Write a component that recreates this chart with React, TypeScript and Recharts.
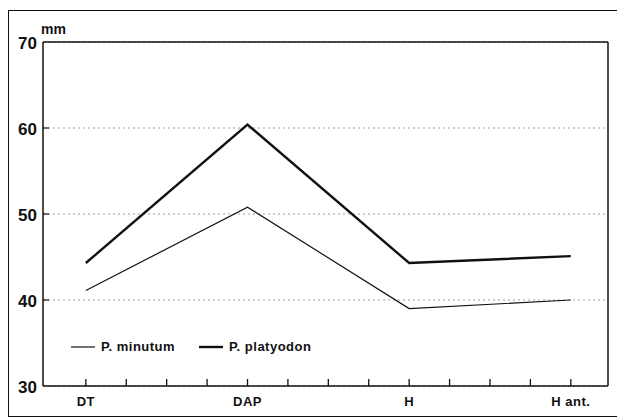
import React from 'react';
import { LineChart, Line, XAxis, YAxis, CartesianGrid, ReferenceLine, Legend } from 'recharts';

const categories = ['DT', 'DAP', 'H', 'H ant.'];
const minutum = [41.1, 50.8, 39.0, 40.0];
const platyodon = [44.3, 60.4, 44.3, 45.1];
const yTicks = [30, 40, 50, 60, 70];
const xTicks = [0, 1, 2, 3, 4, 5, 6, 7, 8, 9, 10, 11, 12];
const categoryStep = 4;

const data = categories.map((c, i) => ({
  x: i * categoryStep,
  name: c,
  minutum: minutum[i],
  platyodon: platyodon[i],
}));

const FONT = '"Liberation Sans", Arial, Helvetica, sans-serif';
const INK = '#111';

const XTick = (props: any) => {
  const { x, y, payload } = props;
  const v = payload.value as number;
  const idx = v / categoryStep;
  const isMajor = Number.isInteger(idx) && idx >= 0 && idx < categories.length;
  return (
    <g>
      <line x1={x} y1={y} x2={x} y2={y - 7} stroke={INK} strokeWidth={1.3} />
      {isMajor ? (
        <text
          x={x}
          y={y + 20}
          textAnchor="middle"
          fontFamily={FONT}
          fontWeight="bold"
          fontSize={13}
          letterSpacing={0.5}
          fill={INK}
        >
          {categories[idx]}
        </text>
      ) : null}
    </g>
  );
};

const YTick = (props: any) => {
  const { x, y, payload } = props;
  const v = payload.value as number;
  return (
    <g>
      {v !== 30 && v !== 70 ? (
        <line x1={x} y1={y} x2={x + 6} y2={y} stroke={INK} strokeWidth={1.2} />
      ) : null}
      <text
        x={x - 6}
        y={y + 7}
        textAnchor="end"
        fontFamily={FONT}
        fontWeight="bold"
        fontSize={17}
        fill={INK}
      >
        {v}
      </text>
    </g>
  );
};

const seriesWidth: Record<string, number> = { minutum: 1.2, platyodon: 2.4 };

const LegendContent = (props: any) => {
  const { payload } = props;
  return (
    <div style={{ display: 'flex', alignItems: 'center', fontFamily: FONT }}>
      {(payload || []).map((entry: any, i: number) => (
        <div
          key={entry.dataKey}
          style={{ display: 'flex', alignItems: 'center', marginLeft: i === 0 ? 0 : 24 }}
        >
          <svg width={24} height={6} style={{ display: 'block' }}>
            <line x1={0} y1={3} x2={24} y2={3} stroke={INK} strokeWidth={seriesWidth[entry.dataKey]} />
          </svg>
          <span
            style={{
              marginLeft: 6,
              fontWeight: 'bold',
              fontSize: 13,
              letterSpacing: 0.5,
              color: INK,
              lineHeight: '16px',
            }}
          >
            {entry.value}
          </span>
        </div>
      ))}
    </div>
  );
};

export default function App() {
  return (
    <div
      style={{
        position: 'absolute',
        left: 0,
        top: 0,
        width: 617,
        height: 418,
        overflow: 'hidden',
        background: '#fff',
      }}
    >
      <div
        style={{
          position: 'absolute',
          left: 8,
          top: 10,
          width: 700,
          height: 405,
          borderLeft: '1.5px solid #111',
          borderTop: '1.5px solid #111',
          borderBottom: '1.5px solid #111',
        }}
      />
      <div
        style={{
          position: 'absolute',
          left: 41,
          top: 21,
          fontFamily: FONT,
          fontWeight: 'bold',
          fontSize: 14,
          color: INK,
          lineHeight: '16px',
        }}
      >
        mm
      </div>
      <div style={{ position: 'absolute', left: 0, top: 0 }}>
        <LineChart
          width={617}
          height={418}
          data={data}
          margin={{ top: 42, right: 9, bottom: 0, left: 0 }}
        >
          <CartesianGrid
            horizontal={true}
            vertical={false}
            stroke="#888"
            strokeDasharray="2 3"
            strokeWidth={0.8}
          />
          <XAxis
            dataKey="x"
            type="number"
            domain={[-1.06, 12.92]}
            ticks={xTicks}
            allowDataOverflow
            interval={0}
            height={32}
            tickLine={false}
            tickSize={0}
            tickMargin={0}
            tick={<XTick />}
            axisLine={{ stroke: INK, strokeWidth: 1.5 }}
          />
          <YAxis
            type="number"
            domain={[30, 70]}
            ticks={yTicks}
            interval={0}
            width={43}
            tickLine={false}
            tickSize={0}
            tickMargin={0}
            tick={<YTick />}
            axisLine={{ stroke: INK, strokeWidth: 1.5 }}
          />
          <ReferenceLine y={70} stroke={INK} strokeWidth={1.5} />
          <ReferenceLine x={12.92} stroke={INK} strokeWidth={1.5} />
          <Legend
            verticalAlign="middle"
            align="center"
            layout="horizontal"
            content={<LegendContent />}
            wrapperStyle={{ left: 71, top: 339, width: 'auto', height: 16 }}
          />
          <Line
            type="linear"
            dataKey="minutum"
            name="P. minutum"
            stroke={INK}
            strokeWidth={1.2}
            dot={false}
            isAnimationActive={false}
          />
          <Line
            type="linear"
            dataKey="platyodon"
            name="P. platyodon"
            stroke={INK}
            strokeWidth={2.4}
            dot={false}
            isAnimationActive={false}
          />
        </LineChart>
      </div>
    </div>
  );
}
